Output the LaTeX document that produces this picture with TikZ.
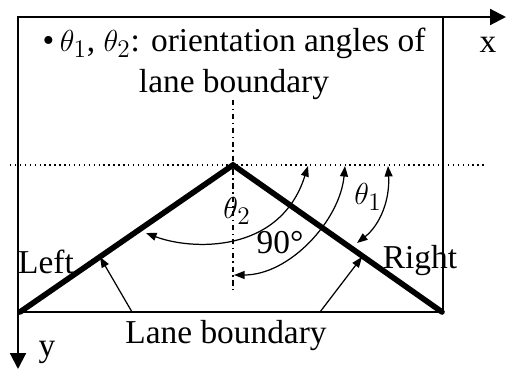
\documentclass[tikz,border=0pt]{standalone}
\usepackage{fontspec}
\setmainfont{Liberation Serif}
\usetikzlibrary{arrows.meta}

\begin{document}
\begin{tikzpicture}[
 x=0.02cm, y=-0.02cm,
 axis/.style={line width=1.2pt, -{Triangle[length=9pt,width=9pt]}},
 frame/.style={line width=0.9pt},
 lane/.style={line width=3.2pt, line cap=round},
 guide/.style={line width=0.8pt, dotted},
 midline/.style={line width=0.9pt, dash dot},
 anglearrow/.style={line width=0.7pt, {Triangle[length=6pt,width=4.5pt]}-{Triangle[length=6pt,width=4.5pt]}},
 pointer/.style={line width=0.7pt, -{Triangle[length=6pt,width=4.5pt]}},
 lbl/.style={font=\fontsize{19}{23}\selectfont, inner sep=0pt}
 ]
 \useasboundingbox (0,0) rectangle (508,371);

 % Frame and axes
 \coordinate (origin) at (18,17);
 \coordinate (xend) at (506,17);
 \coordinate (yend) at (18,369);
 \draw[frame] (origin) rectangle (443,312);
 \draw[axis] (origin) -- (xend);
 \draw[axis] (origin) -- (yend);
 \node[lbl] (xlabel) at (488,45) {x};
 \node[lbl] (ylabel) at (47,352) {y};

 % Title text
 \node[lbl, align=center] (title) at (234,64) {\textbullet\,$\theta_1$, $\theta_2$: orientation angles of\\lane boundary};

 % Reference lines
 \coordinate (hleft) at (10,165);
 \coordinate (hright) at (486,165);
 \coordinate (vtop) at (233,100);
 \coordinate (vbot) at (233,290);
 \draw[guide] (hleft) -- (hright);
 \draw[midline] (vtop) -- (vbot);

 % Lane boundary
 \coordinate (apex) at (233,165);
 \coordinate (leftend) at (20,312);
 \coordinate (rightend) at (442,312);
 \draw[lane] (leftend) -- (apex) -- (rightend);
 \node[lbl] (leftlbl) at (46,262) {Left};
 \node[lbl] (rightlbl) at (420,261) {Right};

 % Angles
 \coordinate (t2a) at (146,233);
 \coordinate (t2b) at (308,166);
 \draw[anglearrow] (t2a) .. controls (190,250) and (280,255) .. (t2b);
 \node[lbl] (theta2) at (237,211) {$\theta_2$};

 \coordinate (rta) at (234,275);
 \coordinate (rtb) at (345,166);
 \draw[anglearrow] (rta) .. controls (290,275) and (340,220) .. (rtb);
 \node[lbl] (right90) at (280,243) {90°};

 \coordinate (t1a) at (357,243);
 \coordinate (t1b) at (388,166);
 \draw[anglearrow] (t1a) .. controls (380,225) and (390,200) .. (t1b);
 \node[lbl] (theta1) at (368,197) {$\theta_1$};

 % Lane boundary pointers
 \node[lbl] (lanelbl) at (226,336) {Lane boundary};
 \coordinate (lbl1) at (132,312);
 \coordinate (lbl2) at (320,312);
 \coordinate (lefthit) at (100,257);
 \coordinate (righthit) at (362,257);
 \draw[pointer] (lbl1) -- (lefthit);
 \draw[pointer] (lbl2) -- (righthit);
\end{tikzpicture}
\end{document}
